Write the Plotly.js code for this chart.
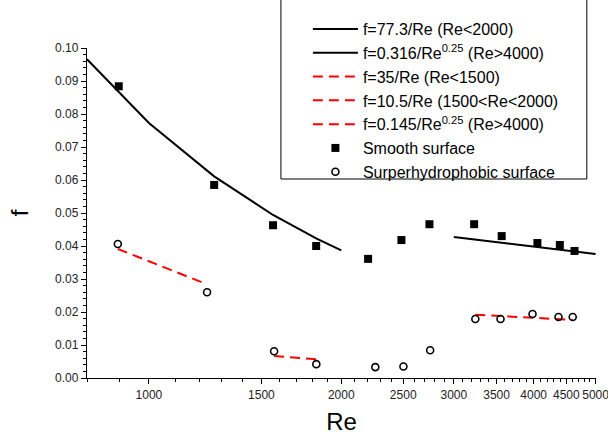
<!DOCTYPE html>
<html>
<head>
<meta charset="utf-8">
<script src="https://cdn.plot.ly/plotly-3.0.1.min.js"></script>
<style>html,body{margin:0;padding:0;background:#fff;}#chart{width:608px;height:437px;}</style>
</head>
<body>
<div id="chart"></div>
<script>
// Smooth surface (black squares)
var smoothRe = [897, 1265, 1564, 1827, 2203, 2484, 2748, 3228, 3565, 4055, 4396, 4635];
var smoothF  = [0.0884, 0.0585, 0.0463, 0.0400, 0.0361, 0.0418, 0.0466, 0.0466, 0.0430, 0.0409, 0.0403, 0.0385];
// Superhydrophobic surface (open circles)
var shRe = [894, 1233, 1570, 1828, 2261, 2502, 2755, 3242, 3550, 3984, 4375, 4605];
var shF  = [0.0406, 0.0260, 0.0081, 0.0042, 0.0033, 0.0035, 0.0084, 0.0179, 0.0179, 0.0194, 0.0185, 0.0185];
// Black lines
var lamRe = [800, 1000, 1265, 1564, 1827, 2000];
var lamF  = [0.0966, 0.0773, 0.0611, 0.0494, 0.0423, 0.0387];
var turbRe = [3000, 3500, 4000, 4500, 5000];
var turbF  = [0.0427, 0.0411, 0.0397, 0.0386, 0.0376];
// Red dashed lines
var r1Re = [894, 1233];   var r1F = [0.0391, 0.0284];
var r2Re = [1570, 1828];  var r2F = [0.0067, 0.0057];
var r3Re = [3242, 3550, 3984, 4375, 4605]; var r3F = [0.0192, 0.0188, 0.0183, 0.0179, 0.0176];

var xTickVals = [1000, 1500, 2000, 2500, 3000, 3500, 4000, 4500, 5000];
var xTickText = ['1000', '1500', '2000', '2500', '3000', '3500', '4000', '4500', '5000'];
var xMinorVals = [800, 900, 1100, 1200, 1300, 1400, 1600, 1700, 1800, 1900, 2100, 2200, 2300, 2400,
  2600, 2700, 2800, 2900, 3100, 3200, 3300, 3400, 3600, 3700, 3800, 3900, 4100, 4200, 4300, 4400,
  4600, 4700, 4800, 4900];

var names = ['f=77.3/Re (Re<2000)', 'f=0.316/Re<sup>0.25</sup> (Re>4000)', 'f=35/Re (Re<1500)',
  'f=10.5/Re (1500<Re<2000)', 'f=0.145/Re<sup>0.25</sup> (Re>4000)', 'Smooth surface', 'Surperhydrophobic surface'];

var red = '#ff0000';
var dashPat = '10px,6px';
var traces = [
  {x: lamRe, y: lamF, mode: 'lines', name: names[0], line: {color: '#000', width: 2}},
  {x: turbRe, y: turbF, mode: 'lines', name: names[1], line: {color: '#000', width: 2}},
  {x: r1Re, y: r1F, mode: 'lines', name: names[2], line: {color: red, width: 2, dash: dashPat}},
  {x: r2Re, y: r2F, mode: 'lines', name: names[3], line: {color: red, width: 2, dash: dashPat}},
  {x: r3Re, y: r3F, mode: 'lines', name: names[4], line: {color: red, width: 2, dash: dashPat}},
  {x: smoothRe, y: smoothF, mode: 'markers', name: names[5], marker: {symbol: 'square', size: 8, color: '#000'}},
  {x: shRe, y: shF, mode: 'markers', name: names[6], marker: {symbol: 'circle-open', size: 7, color: '#000', line: {width: 1.6, color: '#000'}}}
];

var layout = {
  width: 608, height: 437,
  margin: {l: 87, r: 12, t: 43, b: 59},
  paper_bgcolor: '#fff', plot_bgcolor: '#fff',
  font: {family: 'Arial, "Liberation Sans", sans-serif', color: '#000'},
  showlegend: true,
  legend: {
    x: 0.434, y: 1.109, xanchor: 'left', yanchor: 'top',
    bgcolor: 'rgba(0,0,0,0)', borderwidth: 0,
    font: {size: 16, color: '#000'},
    itemwidth: 45, tracegroupgap: 0
  },
  shapes: [{
    type: 'rect', xref: 'paper', yref: 'paper',
    x0: 0.381, x1: 0.982, y0: 0.603, y1: 1.2,
    line: {color: '#000', width: 1}, fillcolor: 'rgba(255,255,255,0)', layer: 'above'
  }],
  xaxis: {
    type: 'log', range: [Math.log10(800), Math.log10(5008)],
    tickmode: 'array', tickvals: xTickVals, ticktext: xTickText, tickangle: 0,
    ticklabeloverflow: 'allow',
    ticks: 'outside', ticklen: 5, tickwidth: 1, tickcolor: '#000',
    minor: {tickmode: 'array', tickvals: xMinorVals, ticks: 'outside', ticklen: 3, tickwidth: 1, tickcolor: '#000', showgrid: false},
    showline: true, linecolor: '#000', linewidth: 1.2, mirror: false,
    showgrid: false, zeroline: false,
    tickfont: {size: 12, color: '#222'},
    title: {text: 'Re', font: {size: 24, color: '#000'}, standoff: 12}
  },
  yaxis: {
    range: [0, 0.1], dtick: 0.01, tick0: 0, tickformat: '.2f',
    ticks: 'outside', ticklen: 5, tickwidth: 1, tickcolor: '#000',
    minor: {dtick: 0.002, ticks: 'outside', ticklen: 3, tickwidth: 1, tickcolor: '#000', showgrid: false},
    showline: true, linecolor: '#000', linewidth: 1.2, mirror: false,
    showgrid: false, zeroline: false,
    tickfont: {size: 12, color: '#222'},
    title: {text: 'f', font: {size: 24, color: '#000'}, standoff: 19}
  }
};

Plotly.newPlot('chart', traces, layout, {displayModeBar: false, staticPlot: true});
</script>
</body>
</html>
